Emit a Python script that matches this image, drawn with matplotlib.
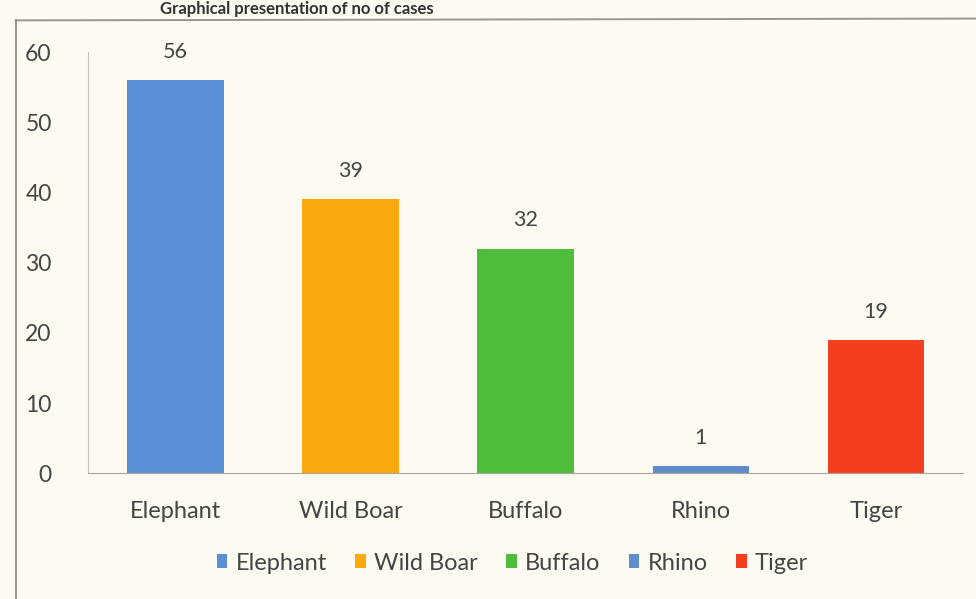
import matplotlib.pyplot as plt
from matplotlib.patches import Patch
from matplotlib.lines import Line2D

animals = ["Elephant", "Wild Boar", "Buffalo", "Rhino", "Tiger"]
cases = [56, 39, 32, 1, 19]
colors = ["#5a8fd6", "#f9a90a", "#4fbd3c", "#5f8dcc", "#f2401f"]

plt.rcParams['font.family'] = ['Lato', 'DejaVu Sans']

bg = "#fdfaf1"
txt = "#454545"
fig = plt.figure(figsize=(9.76, 5.99), dpi=100, facecolor=bg)

# outer chart frame (left and top edges)
fig.add_artist(Line2D([0.016, 0.016], [0.0, 0.966], color="#9a968c", lw=1.4))
fig.add_artist(Line2D([0.016, 1.0], [0.966, 0.969], color="#9a968c", lw=1.4))

# heading above the frame
fig.text(0.164, 0.999, "Graphical presentation of no of cases", fontsize=12,
         fontweight="bold", color="#333333", ha="left", va="top")

ax = fig.add_axes([0.090, 0.210, 0.897, 0.703])
ax.set_facecolor(bg)
x = range(len(animals))
bars = ax.bar(x, cases, width=0.55, color=colors)

for i, v in enumerate(cases):
    ax.text(i, v + 2.6, str(v), ha="center", va="bottom", fontsize=15.5, color=txt)

ax.set_xlim(-0.5, 4.5)
ax.set_ylim(0, 60)
ax.set_yticks(range(0, 61, 10))
ax.set_xticks(list(x))
ax.set_xticklabels(animals)
ax.tick_params(axis="both", length=0, labelcolor=txt)
ax.tick_params(axis="y", pad=26, labelsize=16.5)
ax.tick_params(axis="x", pad=20, labelsize=17)

for s in ["top", "right"]:
    ax.spines[s].set_visible(False)
ax.spines["left"].set_color("#c8c4b8")
ax.spines["bottom"].set_color("#a9a59a")

handles = [Patch(facecolor=c, label=a) for a, c in zip(animals, colors)]
fig.legend(handles=handles, loc="center", bbox_to_anchor=(0.525, 0.06), ncol=5,
           frameon=False, fontsize=17, handlelength=0.45, handleheight=0.55,
           handletextpad=0.35, columnspacing=1.2, labelcolor=txt)

fig.savefig("out.png", dpi=100, facecolor=bg)
